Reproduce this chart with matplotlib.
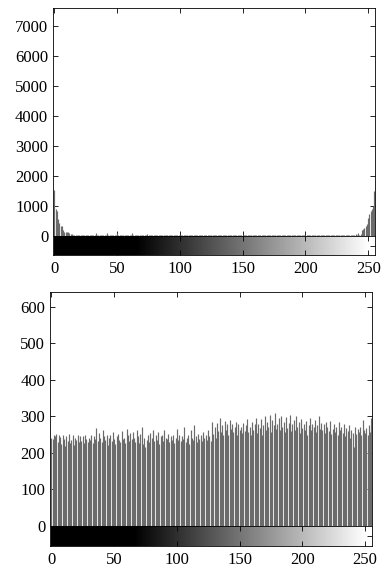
import numpy as np
import matplotlib
matplotlib.use("Agg")
import matplotlib.pyplot as plt

plt.rcParams['font.family'] = ['Liberation Serif', 'DejaVu Serif']
plt.rcParams['font.size'] = 12

levels = np.arange(256)

# histogram of the original image (counts per gray level)
counts_top = [
    1520, 900, 850, 570, 420, 320, 330, 200, 150, 120, 140, 130, 90, 70, 60, 50,
    45, 40, 35, 30, 30, 28, 25, 30, 25, 22, 25, 20, 22, 25, 20, 22,
    30, 90, 25, 20, 22, 25, 20, 30, 22, 20, 95, 25, 22, 20, 25, 22,
    20, 25, 100, 22, 20, 25, 22, 20, 25, 22, 20, 22, 25, 20, 85, 22,
    25, 20, 22, 25, 20, 22, 25, 20, 22, 25, 60, 20, 22, 25, 20, 22,
    25, 20, 22, 25, 20, 22, 25, 20, 22, 25, 20, 22, 25, 20, 22, 25,
    20, 22, 25, 20, 22, 25, 20, 22, 25, 20, 22, 25, 20, 22, 25, 20,
    22, 25, 20, 22, 25, 20, 22, 25, 20, 22, 25, 20, 22, 25, 20, 22,
    25, 20, 22, 25, 20, 22, 25, 20, 22, 25, 20, 22, 25, 20, 22, 25,
    20, 22, 25, 20, 22, 25, 20, 22, 25, 20, 22, 25, 20, 22, 25, 20,
    22, 25, 20, 22, 25, 20, 22, 25, 20, 22, 25, 20, 22, 25, 20, 22,
    25, 20, 22, 25, 20, 22, 25, 20, 22, 25, 20, 22, 25, 20, 22, 25,
    20, 22, 25, 20, 22, 25, 20, 22, 25, 20, 22, 25, 20, 22, 25, 20,
    22, 25, 20, 22, 25, 20, 22, 25, 20, 22, 25, 20, 22, 25, 20, 22,
    25, 20, 22, 25, 20, 22, 25, 20, 22, 25, 20, 22, 25, 20, 22, 25,
    60, 40, 110, 50, 60, 200, 250, 280, 320, 400, 600, 750, 850, 900, 1000, 1500,
]

# histogram of the encrypted image
counts_bottom = [
    240, 238, 250, 245, 252, 230, 248, 243, 225, 250, 238, 220, 245, 232, 252, 228,
    235, 248, 222, 240, 236, 250, 230, 247, 232, 245, 226, 250, 238, 230, 242, 235,
    250, 228, 245, 238, 268, 232, 255, 240, 230, 262, 245, 236, 248, 222, 240, 250,
    232, 258, 238, 225, 246, 252, 235, 230, 260, 238, 242, 228, 265, 248, 232, 255,
    238, 258, 242, 230, 262, 245, 228, 252, 270, 225, 240, 215, 235, 248, 230, 255,
    240, 262, 232, 248, 236, 258, 225, 246, 250, 232, 262, 240, 238, 252, 230, 245,
    236, 248, 228, 242, 265, 235, 250, 232, 245, 238, 270, 230, 240, 250, 225, 262,
    242, 235, 275, 245, 230, 252, 238, 248, 232, 258, 240, 250, 236, 264, 245, 232,
    285, 252, 270, 240, 282, 260, 295, 258, 275, 248, 288, 262, 278, 250, 290, 265,
    280, 258, 272, 285, 248, 278, 262, 270, 255, 282, 260, 275, 292, 258, 270, 248,
    285, 262, 278, 295, 255, 280, 268, 292, 250, 275, 300, 262, 285, 270, 305, 258,
    290, 275, 310, 265, 280, 295, 262, 300, 272, 285, 258, 298, 268, 282, 305, 260,
    278, 290, 262, 300, 270, 285, 255, 292, 268, 278, 262, 288, 250, 275, 295, 262,
    280, 270, 290, 258, 275, 300, 265, 282, 262, 278, 255, 285, 270, 260, 288, 252,
    265, 280, 258, 272, 250, 285, 262, 270, 255, 278, 245, 268, 260, 275, 240, 262,
    255, 215, 270, 252, 265, 258, 272, 248, 290, 262, 255, 268, 250, 275, 258, 295,
]

xticks = [0, 50, 100, 150, 200, 250]
yticks_top = [0, 1000, 2000, 3000, 4000, 5000, 6000, 7000]
yticks_bottom = [0, 100, 200, 300, 400, 500, 600]

# gray ramp shown under each histogram (black up to ~65, white near 250)
ramp_lo, ramp_hi = 65, 250


def panel(fig, rect_main, rect_bar, counts, ymax, yticks):
    ax = fig.add_axes(rect_main)
    ax.vlines(levels, 0, counts, color='0.42', linewidth=0.85)
    ax.set_xlim(-1, 255.5)
    ax.set_ylim(0, ymax)
    ax.set_yticks(yticks)
    ax.set_xticks(xticks)
    ax.tick_params(direction='in', top=True, right=True, labelbottom=False,
                   length=3.5, width=0.6)
    for s in ax.spines.values():
        s.set_linewidth(0.6)

    cax = fig.add_axes(rect_bar)
    g = np.clip((levels - ramp_lo) / (ramp_hi - ramp_lo), 0, 1)
    cax.imshow(g[None, :], cmap='gray', vmin=0, vmax=1, aspect='auto',
               extent=[-0.5, 255.5, 0, 1])
    cax.set_xlim(-1, 255.5)
    cax.set_ylim(0, 1)
    cax.set_xticks(xticks)
    cax.set_yticks([0.5])
    cax.tick_params(axis='x', direction='in', top=True, length=3.5, width=0.6, pad=4)
    cax.tick_params(axis='y', direction='in', left=False, right=True,
                    labelleft=False, length=3.5, width=0.6)
    for s in cax.spines.values():
        s.set_linewidth(0.6)


fig = plt.figure(figsize=(3.82, 5.72), dpi=100)
panel(fig, [0.139, 0.5874, 0.843, 0.3986], [0.139, 0.5542, 0.843, 0.0332],
      counts_top, 7600, yticks_top)
panel(fig, [0.131, 0.0804, 0.843, 0.409], [0.131, 0.0455, 0.843, 0.035],
      counts_bottom, 640, yticks_bottom)

fig.savefig('out.png', dpi=100)
